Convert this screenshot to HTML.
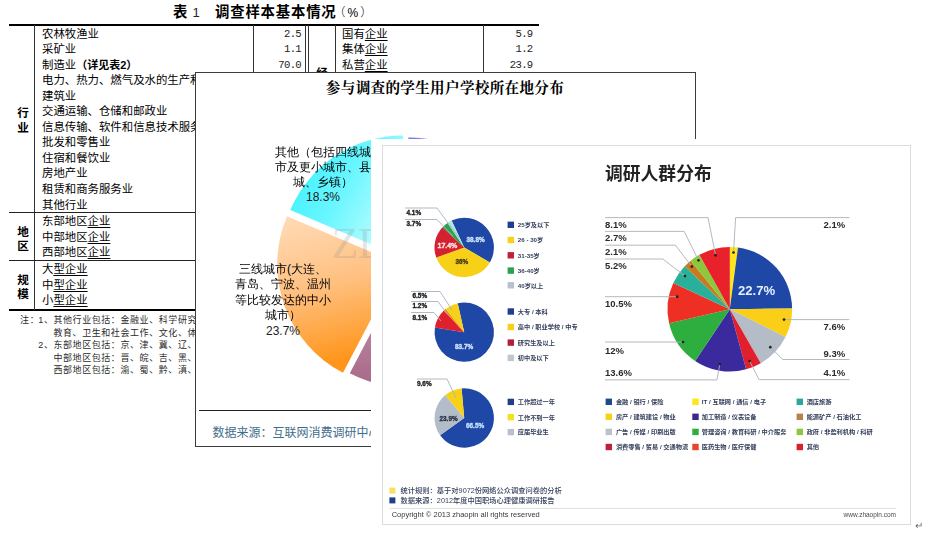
<!DOCTYPE html>
<html lang="zh"><head><meta charset="utf-8"><title>调查样本</title>
<style>
html,body{margin:0;padding:0;background:#fff}
body{width:941px;height:557px;position:relative;overflow:hidden;font-family:"Liberation Sans","Noto Sans CJK SC",sans-serif;color:#000}
.abs{position:absolute}
.r{position:absolute;font-size:11.4px;line-height:16px;height:16px;white-space:nowrap;font-family:"Liberation Sans","Noto Sans CJK SC",sans-serif;font-weight:400;color:#000}
.r u{text-decoration:underline;text-underline-offset:1.5px;text-decoration-thickness:1px}
.r .hb{font-weight:700;font-size:11px;font-family:"Liberation Sans","Noto Sans CJK SC",sans-serif;letter-spacing:0}
.n{text-align:right;font-family:"Liberation Mono","Noto Sans CJK SC",monospace;font-size:10.6px;letter-spacing:-0.7px;font-weight:400;color:#222}
.hd{position:absolute;font-weight:700;font-size:11.6px;line-height:14px;width:14px;text-align:center}
.nt{position:absolute;font-size:9px;line-height:13px;white-space:nowrap;color:#2a2a2a;letter-spacing:0.58px;font-weight:400}
.ln{position:absolute;background:#000}
.lg{font-size:6.2px;fill:#35405c;font-weight:700}
.pl{font-size:6.4px;font-weight:700;fill:#222;stroke:#222;stroke-width:0.35px;paint-order:stroke}
.bl{font-size:9.5px;font-weight:700;fill:#2a2a2a;font-family:"Liberation Sans",sans-serif}
</style></head><body>
<!-- ================= table 1 ================= -->
<div class="abs" style="left:173px;top:2px;font-size:14.4px;line-height:20px;font-weight:700;white-space:nowrap">表</div>
<div class="abs" style="left:192.5px;top:3px;font-size:13px;line-height:20px;white-space:nowrap;font-family:'Liberation Sans',sans-serif;color:#222">1</div>
<div class="abs" style="left:215px;top:2px;font-size:14.4px;line-height:20px;font-weight:700;letter-spacing:0.8px;white-space:nowrap">调查样本基本情况</div>
<div class="abs" style="left:333.5px;top:3px;font-size:12px;line-height:20px;white-space:nowrap;font-weight:300;letter-spacing:2px">（%）</div>
<div class="ln" style="left:9px;top:24px;width:530px;height:2px"></div>
<div class="ln" style="left:9px;top:309px;width:530px;height:2px"></div>
<div class="ln" style="left:34px;top:25px;width:1px;height:285px;background:#333"></div>
<div class="ln" style="left:253px;top:25px;width:1px;height:285px;background:#333"></div>
<div class="ln" style="left:305px;top:25px;width:1px;height:285px;background:#333"></div>
<div class="ln" style="left:308px;top:25px;width:1px;height:285px;background:#333"></div>
<div class="ln" style="left:335px;top:25px;width:1px;height:285px;background:#333"></div>
<div class="ln" style="left:483px;top:25px;width:1px;height:285px;background:#333"></div>
<div class="ln" style="left:9px;top:212px;width:297px;height:1px;background:#222"></div>
<div class="ln" style="left:9px;top:260px;width:297px;height:1px;background:#222"></div>
<div class="hd" style="left:16px;top:105.5px">行</div><div class="hd" style="left:16px;top:120.8px">业</div>
<div class="hd" style="left:16px;top:224.5px">地</div><div class="hd" style="left:16px;top:239.3px">区</div>
<div class="hd" style="left:16px;top:273.2px">规</div><div class="hd" style="left:16px;top:287.2px">模</div>
<div class="hd" style="left:315px;top:66px">经</div>
<div class="r" style="top:26.0px;left:42px">农林牧渔业</div>
<div class="r" style="top:41.0px;left:42px">采矿业</div>
<div class="r" style="top:56.5px;left:42px">制造业<b class="hb">（详见表2）</b></div>
<div class="r" style="top:72.0px;left:42px">电力、热力、燃气及水的生产和供应业</div>
<div class="r" style="top:87.5px;left:42px">建筑业</div>
<div class="r" style="top:103.0px;left:42px">交通运输、仓储和邮政业</div>
<div class="r" style="top:118.5px;left:42px">信息传输、软件和信息技术服务业</div>
<div class="r" style="top:134.0px;left:42px">批发和零售业</div>
<div class="r" style="top:149.5px;left:42px">住宿和餐饮业</div>
<div class="r" style="top:165.0px;left:42px">房地产业</div>
<div class="r" style="top:181.0px;left:42px">租赁和商务服务业</div>
<div class="r" style="top:196.5px;left:42px">其他行业</div>
<div class="r" style="top:212.5px;left:42px">东部地区<u>企业</u></div>
<div class="r" style="top:228.5px;left:42px">中部地区<u>企业</u></div>
<div class="r" style="top:244.0px;left:42px">西部地区<u>企业</u></div>
<div class="r" style="top:261.0px;left:42px">大<u>型企业</u></div>
<div class="r" style="top:276.5px;left:42px">中<u>型企业</u></div>
<div class="r" style="top:292.0px;left:42px">小<u>型企业</u></div>
<div class="r n" style="top:26.0px;left:255px;width:46px">2.5</div>
<div class="r n" style="top:41.0px;left:255px;width:46px">1.1</div>
<div class="r n" style="top:56.5px;left:255px;width:46px">70.0</div>
<div class="r" style="top:26.0px;left:342px">国有<u>企业</u></div>
<div class="r" style="top:41.0px;left:342px">集体<u>企业</u></div>
<div class="r" style="top:56.5px;left:342px">私营<u>企业</u></div>
<div class="r n" style="top:26.0px;left:486px;width:46.5px">5.9</div>
<div class="r n" style="top:41.0px;left:486px;width:46.5px">1.2</div>
<div class="r n" style="top:56.5px;left:486px;width:46.5px">23.9</div>
<div class="nt" style="left:20.1px;top:314.0px">注：</div>
<div class="nt" style="left:38.3px;top:314.0px">1、</div>
<div class="nt" style="left:53.4px;top:314.0px">其他行业包括：金融业、科学研究和技术服务业、</div>
<div class="nt" style="left:53.4px;top:326.9px">教育、卫生和社会工作、文化、体育和娱乐业等。</div>
<div class="nt" style="left:38.3px;top:339.4px">2、</div>
<div class="nt" style="left:53.4px;top:339.4px">东部地区包括：京、津、冀、辽、沪、苏、浙、闽、</div>
<div class="nt" style="left:53.4px;top:351.8px">中部地区包括：晋、皖、吉、黑、赣、豫、鄂、湘；</div>
<div class="nt" style="left:53.4px;top:363.9px">西部地区包括：渝、蜀、黔、滇、藏、陕、甘、青、</div>
<!-- ================= middle chart ================= -->
<div class="abs" style="left:195px;top:72px;width:499px;height:373px;border:1px solid #3c3c3c;background:#fff"></div>
<div class="abs" style="left:195px;top:78px;width:500px;text-align:center;font-size:14.6px;line-height:20px;font-weight:700;font-family:'Liberation Serif','Noto Serif CJK SC',serif;letter-spacing:0.3px">参与调查的学生用户学校所在地分布</div>
<svg class="abs" style="left:0;top:0" width="941" height="557" viewBox="0 0 941 557">
<defs>
<linearGradient id="gcy" x1="0" y1="0.2" x2="1" y2="0.8"><stop offset="0" stop-color="#38f0ff"/><stop offset="0.45" stop-color="#6af6ff"/><stop offset="1" stop-color="#d0ffff"/></linearGradient>
<linearGradient id="gor" x1="0" y1="0" x2="0.2" y2="1"><stop offset="0" stop-color="#ffdcb8"/><stop offset="0.5" stop-color="#ffc080"/><stop offset="1" stop-color="#ff9418"/></linearGradient>
<linearGradient id="gmv" x1="0" y1="0" x2="0" y2="1"><stop offset="0" stop-color="#c8a0b0"/><stop offset="1" stop-color="#a86888"/></linearGradient>
<linearGradient id="gbl" x1="0" y1="0" x2="1" y2="1"><stop offset="0" stop-color="#7878e8"/><stop offset="1" stop-color="#d0d0ff"/></linearGradient>
</defs>
<path d="M403.0,258.0L290.2,210.1A122.5,122.5 0 0 1 403.0,135.5Z" fill="url(#gcy)"/>
<path d="M399.8,264.2L343.0,372.8A122.5,122.5 0 0 1 287.0,216.3Z" fill="url(#gor)"/>
<path d="M406.6,264.7L492.3,352.2A122.5,122.5 0 0 1 349.8,373.3Z" fill="url(#gmv)"/>
<path d="M408.3,259.9L408.3,137.4A122.5,122.5 0 0 1 469.6,153.8Z" fill="url(#gbl)"/>
<path d="M415.3,263.7L476.6,157.6A122.5,122.5 0 0 1 501.0,351.2Z" fill="#9c6"/>
<text x="331.5" y="258" font-size="44" fill="#8a8a8a" fill-opacity="0.22" font-family="'Liberation Serif',serif" textLength="120">ZDNet</text>
</svg>
<div class="abs lb" style="left:263px;top:144.5px;width:120px;text-align:center;font-size:12px;line-height:15.3px;font-weight:400;font-family:'Liberation Sans','WenQuanYi Zen Hei',sans-serif">其他（包括四线城<br>市及更小城市、县<br>城、乡镇）<br><span style="font-family:'Liberation Sans',sans-serif;font-weight:400;color:#1c1c1c">18.3%</span></div>
<div class="abs lb" style="left:208px;top:261.5px;width:150px;text-align:center;font-size:12px;line-height:15.6px;font-weight:400;font-family:'Liberation Sans','WenQuanYi Zen Hei',sans-serif">三线城市(大连、<br>青岛、宁波、温州<br>等比较发达的中小<br>城市）<br><span style="font-family:'Liberation Sans',sans-serif;font-weight:400;color:#1c1c1c">23.7%</span></div>
<div class="ln" style="left:199px;top:410px;width:492px;height:1px;background:#222"></div>
<div class="abs" style="left:212.5px;top:424px;font-size:12px;line-height:18px;color:#3f6e8c;white-space:nowrap;font-weight:400">数据来源：互联网消费调研中心</div>
<!-- ================= third chart ================= -->
<div class="abs" style="left:371px;top:139px;width:556px;height:400px;background:#fff"></div>
<div class="abs" style="left:382px;top:145px;width:526.8px;height:378.2px;border:1px solid #dadcdf;background:#fff"></div>
<svg class="abs" style="left:0;top:0;filter:blur(0.75px)" width="941" height="557" viewBox="0 0 941 557" font-family='"Liberation Sans","Noto Sans CJK SC",sans-serif'>
<text x="605" y="179.5" font-size="17.8" font-weight="700" fill="#222">调研人群分布</text>
<path d="M464.2,247.5L451.6,220.6A29.7,29.7 0 0 1 489.9,262.4Z" fill="#1f47a5"/>
<path d="M464.2,247.5L489.9,262.4A29.7,29.7 0 0 1 436.3,257.6Z" fill="#f7d117"/>
<path d="M464.2,247.5L436.3,257.6A29.7,29.7 0 0 1 442.5,227.2Z" fill="#d4212f"/>
<path d="M464.2,247.5L442.5,227.2A29.7,29.7 0 0 1 447.6,222.9Z" fill="#2ca24f"/>
<path d="M464.2,247.5L447.6,222.9A29.7,29.7 0 0 1 451.6,220.6Z" fill="#a9e6df"/>
<path d="M464.2,332.2L457.7,303.2A29.7,29.7 0 1 1 434.9,327.6Z" fill="#1f47a5"/>
<path d="M464.2,332.2L434.9,327.6A29.7,29.7 0 0 1 443.9,310.5Z" fill="#e0202c"/>
<path d="M464.2,332.2L443.9,310.5A29.7,29.7 0 0 1 445.8,308.8Z" fill="#f08a1c"/>
<path d="M464.2,332.2L445.8,308.8A29.7,29.7 0 0 1 457.7,303.2Z" fill="#f7d117"/>
<path d="M464.2,418.0L461.6,388.4A29.7,29.7 0 1 1 440.1,435.3Z" fill="#1f47a5"/>
<path d="M464.2,418.0L440.1,435.3A29.7,29.7 0 0 1 445.3,395.1Z" fill="#b3bcc9"/>
<path d="M464.2,418.0L445.3,395.1A29.7,29.7 0 0 1 461.6,388.4Z" fill="#f7d117"/>
<path d="M729.8,309.2L729.8,246.9A62.3,62.3 0 0 1 738.0,247.4Z" fill="#ffe51a"/>
<path d="M729.8,309.2L738.0,247.4A62.3,62.3 0 0 1 792.1,308.4Z" fill="#1f47a5"/>
<path d="M729.8,309.2L792.1,308.4A62.3,62.3 0 0 1 785.5,337.1Z" fill="#fbcf17"/>
<path d="M729.8,309.2L785.5,337.1A62.3,62.3 0 0 1 760.8,363.2Z" fill="#b4bcc8"/>
<path d="M729.8,309.2L760.8,363.2A62.3,62.3 0 0 1 746.1,369.3Z" fill="#e0202c"/>
<path d="M729.8,309.2L746.1,369.3A62.3,62.3 0 0 1 695.1,360.9Z" fill="#3b2a9e"/>
<path d="M729.8,309.2L695.1,360.9A62.3,62.3 0 0 1 669.1,323.2Z" fill="#2eae3e"/>
<path d="M729.8,309.2L669.1,323.2A62.3,62.3 0 0 1 673.3,283.0Z" fill="#ee3024"/>
<path d="M729.8,309.2L673.3,283.0A62.3,62.3 0 0 1 684.7,266.3Z" fill="#28b09a"/>
<path d="M729.8,309.2L684.7,266.3A62.3,62.3 0 0 1 690.7,260.7Z" fill="#c87a20"/>
<path d="M729.8,309.2L690.7,260.7A62.3,62.3 0 0 1 699.4,254.8Z" fill="#8cc83c"/>
<path d="M729.8,309.2L699.4,254.8A62.3,62.3 0 0 1 729.8,246.9Z" fill="#e8212b"/>
<g fill="none" stroke="#a9b1bb" stroke-width="0.9">
<path d="M405,208H437L459,238"/><path d="M405,219.5H437L453,236"/>
<path d="M411,291.5H440L452,310"/><path d="M411,301.5H438L447,314"/><path d="M411,312.5H434L441,321"/>
<path d="M417,379H447L456,398"/>
<path d="M605,217.6H708L715.6,255.3"/><path d="M605,231.4H684.2L698.5,260.3"/><path d="M605,245.2H675.4L691.8,266.6"/><path d="M605,259H662.9L685,276.1"/><path d="M605,296.7H677.2"/>
<path d="M605,342H683"/><path d="M605,379.9H716.9L719.9,364"/>
<path d="M733.5,252.5L735.6,217.6H849.4"/><path d="M784,319.6H849.4"/><path d="M770.3,347.2L782.8,359.5H849.4"/><path d="M749.6,361L759,379.6H849.4"/>
</g>
<g fill="#222">
<circle cx="715.6" cy="255.3" r="1.35"/><circle cx="698.5" cy="260.3" r="1.35"/><circle cx="691.8" cy="266.6" r="1.35"/><circle cx="685" cy="276.1" r="1.35"/><circle cx="677.2" cy="296.7" r="1.35"/><circle cx="683" cy="342" r="1.35"/><circle cx="719.9" cy="364" r="1.35"/><circle cx="733.5" cy="252.5" r="1.35"/><circle cx="784" cy="319.6" r="1.35"/><circle cx="770.3" cy="347.2" r="1.35"/><circle cx="749.6" cy="361" r="1.35"/>
</g>
<text x="406.5" y="215.2" class="pl">4.1%</text><text x="406.5" y="226.2" class="pl">3.7%</text>
<text x="412.5" y="298.2" class="pl">6.5%</text><text x="412.5" y="308.2" class="pl">1.2%</text><text x="412.5" y="319.5" class="pl">8.1%</text>
<text x="417" y="385.8" class="pl">9.6%</text>
<text x="466.5" y="242.2" class="pl" style="fill:#cfe4ff;stroke:#cfe4ff">38.8%</text><text x="437.5" y="248" class="pl" style="fill:#ffe6e6;stroke:#ffe6e6;font-size:7px">17.4%</text><text x="455.5" y="264.3" class="pl" style="fill:#4a3a10;stroke:#4a3a10">36%</text>
<text x="455" y="349.3" class="pl" style="fill:#cfe4ff;stroke:#cfe4ff">83.7%</text>
<text x="439.5" y="421.2" class="pl" style="fill:#2a3040;stroke:#2a3040">23.9%</text><text x="466" y="427.7" class="pl" style="fill:#bfe0ff;stroke:#bfe0ff">66.5%</text>
<rect x="507.6" y="221.6" width="6.4" height="6.4" fill="#1f3f8a"/>
<text x="517.8" y="227.1" class="lg">25岁及以下</text>
<rect x="507.6" y="236.8" width="6.4" height="6.4" fill="#f7d117"/>
<text x="517.8" y="242.3" class="lg">26 - 30岁</text>
<rect x="507.6" y="252.1" width="6.4" height="6.4" fill="#c0203a"/>
<text x="517.8" y="257.6" class="lg">31-35岁</text>
<rect x="507.6" y="267.4" width="6.4" height="6.4" fill="#2ca24f"/>
<text x="517.8" y="272.9" class="lg">36-40岁</text>
<rect x="507.6" y="282.1" width="6.4" height="6.4" fill="#b8c0cc"/>
<text x="517.8" y="287.6" class="lg">40岁以上</text>
<rect x="507.6" y="308.3" width="6.4" height="6.4" fill="#1f3f8a"/>
<text x="517.8" y="313.8" class="lg">大专 / 本科</text>
<rect x="507.6" y="323.8" width="6.4" height="6.4" fill="#f7d117"/>
<text x="517.8" y="329.3" class="lg">高中 / 职业学校 / 中专</text>
<rect x="507.6" y="339.4" width="6.4" height="6.4" fill="#b0203a"/>
<text x="517.8" y="344.9" class="lg">研究生及以上</text>
<rect x="507.6" y="354.7" width="6.4" height="6.4" fill="#c0c6ce"/>
<text x="517.8" y="360.2" class="lg">初中及以下</text>
<rect x="507.6" y="398.7" width="6.4" height="6.4" fill="#1f3f8a"/>
<text x="517.8" y="404.2" class="lg">工作超过一年</text>
<rect x="507.6" y="414.0" width="6.4" height="6.4" fill="#f2e21c"/>
<text x="517.8" y="419.5" class="lg">工作不到一年</text>
<rect x="507.6" y="428.9" width="6.4" height="6.4" fill="#b8c0d0"/>
<text x="517.8" y="434.4" class="lg">应届毕业生</text>
<text x="605" y="227.8" class="bl">8.1%</text><text x="605" y="241.1" class="bl">2.7%</text><text x="605" y="254.9" class="bl">2.1%</text><text x="605" y="269.2" class="bl">5.2%</text><text x="605" y="307.2" class="bl">10.5%</text><text x="605" y="353.7" class="bl">12%</text><text x="605" y="376.3" class="bl">13.6%</text>
<text x="823.5" y="227.8" class="bl">2.1%</text><text x="823.5" y="329.8" class="bl">7.6%</text><text x="823.5" y="356.7" class="bl">9.3%</text><text x="823.5" y="376.3" class="bl">4.1%</text>
<text x="738" y="295.3" font-size="13.1" font-weight="700" fill="#e4f0ff" font-family='"Liberation Sans",sans-serif'>22.7%</text>
<rect x="605.6" y="398.6" width="6.4" height="6.4" fill="#1f4a8a"/>
<text x="615.9" y="404.1" class="lg">金融 / 银行 / 保险</text>
<rect x="605.6" y="413.6" width="6.4" height="6.4" fill="#f7d117"/>
<text x="615.9" y="419.1" class="lg">房产 / 建筑建设 / 物业</text>
<rect x="605.6" y="428.7" width="6.4" height="6.4" fill="#b8c4c8"/>
<text x="615.9" y="434.2" class="lg">广告 / 传媒 / 印刷出版</text>
<rect x="605.6" y="443.8" width="6.4" height="6.4" fill="#c0203a"/>
<text x="615.9" y="449.3" class="lg">消费零售 / 贸易 / 交通物流</text><rect x="692.3" y="398.6" width="6.4" height="6.4" fill="#ffe51a"/>
<text x="701.8" y="404.1" class="lg">IT / 互联网 / 通信 / 电子</text>
<rect x="692.3" y="413.6" width="6.4" height="6.4" fill="#3b2a8e"/>
<text x="701.8" y="419.1" class="lg">加工制造 / 仪表设备</text>
<rect x="692.3" y="428.7" width="6.4" height="6.4" fill="#2eae3e"/>
<text x="701.8" y="434.2" class="lg">管理咨询 / 教育科研 / 中介服务</text>
<rect x="692.3" y="443.8" width="6.4" height="6.4" fill="#e8452a"/>
<text x="701.8" y="449.3" class="lg">医药生物 / 医疗保健</text><rect x="796.6" y="398.6" width="6.4" height="6.4" fill="#28a89a"/>
<text x="806.7" y="404.1" class="lg">酒店旅游</text>
<rect x="796.6" y="413.6" width="6.4" height="6.4" fill="#b8804a"/>
<text x="806.7" y="419.1" class="lg">能源矿产 / 石油化工</text>
<rect x="796.6" y="428.7" width="6.4" height="6.4" fill="#8cc83c"/>
<text x="806.7" y="434.2" class="lg">政府 / 非盈利机构 / 科研</text>
<rect x="796.6" y="443.8" width="6.4" height="6.4" fill="#d8212b"/>
<text x="806.7" y="449.3" class="lg">其他</text>
<rect x="389.4" y="487.6" width="6" height="6" fill="#fbe060"/><text x="400.6" y="493" class="lg" style="font-size:7.25px;font-weight:500">统计规则：基于对9072份网络公众调查问卷的分析</text>
<rect x="389.4" y="497.4" width="6" height="6" fill="#1f3f8a"/><text x="400.6" y="502.8" class="lg" style="font-size:7.25px;font-weight:500">数据来源：2012年度中国职场心理健康调研报告</text>
<path d="M389.4,508.5H896" stroke="#d4d8dc" stroke-width="0.8"/>
<text x="391.7" y="517.4" font-size="7.5" fill="#3a3a3a">Copyright © 2013 zhaopin all rights reserved</text>
<text x="896" y="517" font-size="6.5" fill="#4a4a4a" text-anchor="end">www.zhaopin.com</text>
<text x="914.5" y="528.5" font-size="9.5" fill="#6a6a6a">↵</text>
</svg>
</body></html>
